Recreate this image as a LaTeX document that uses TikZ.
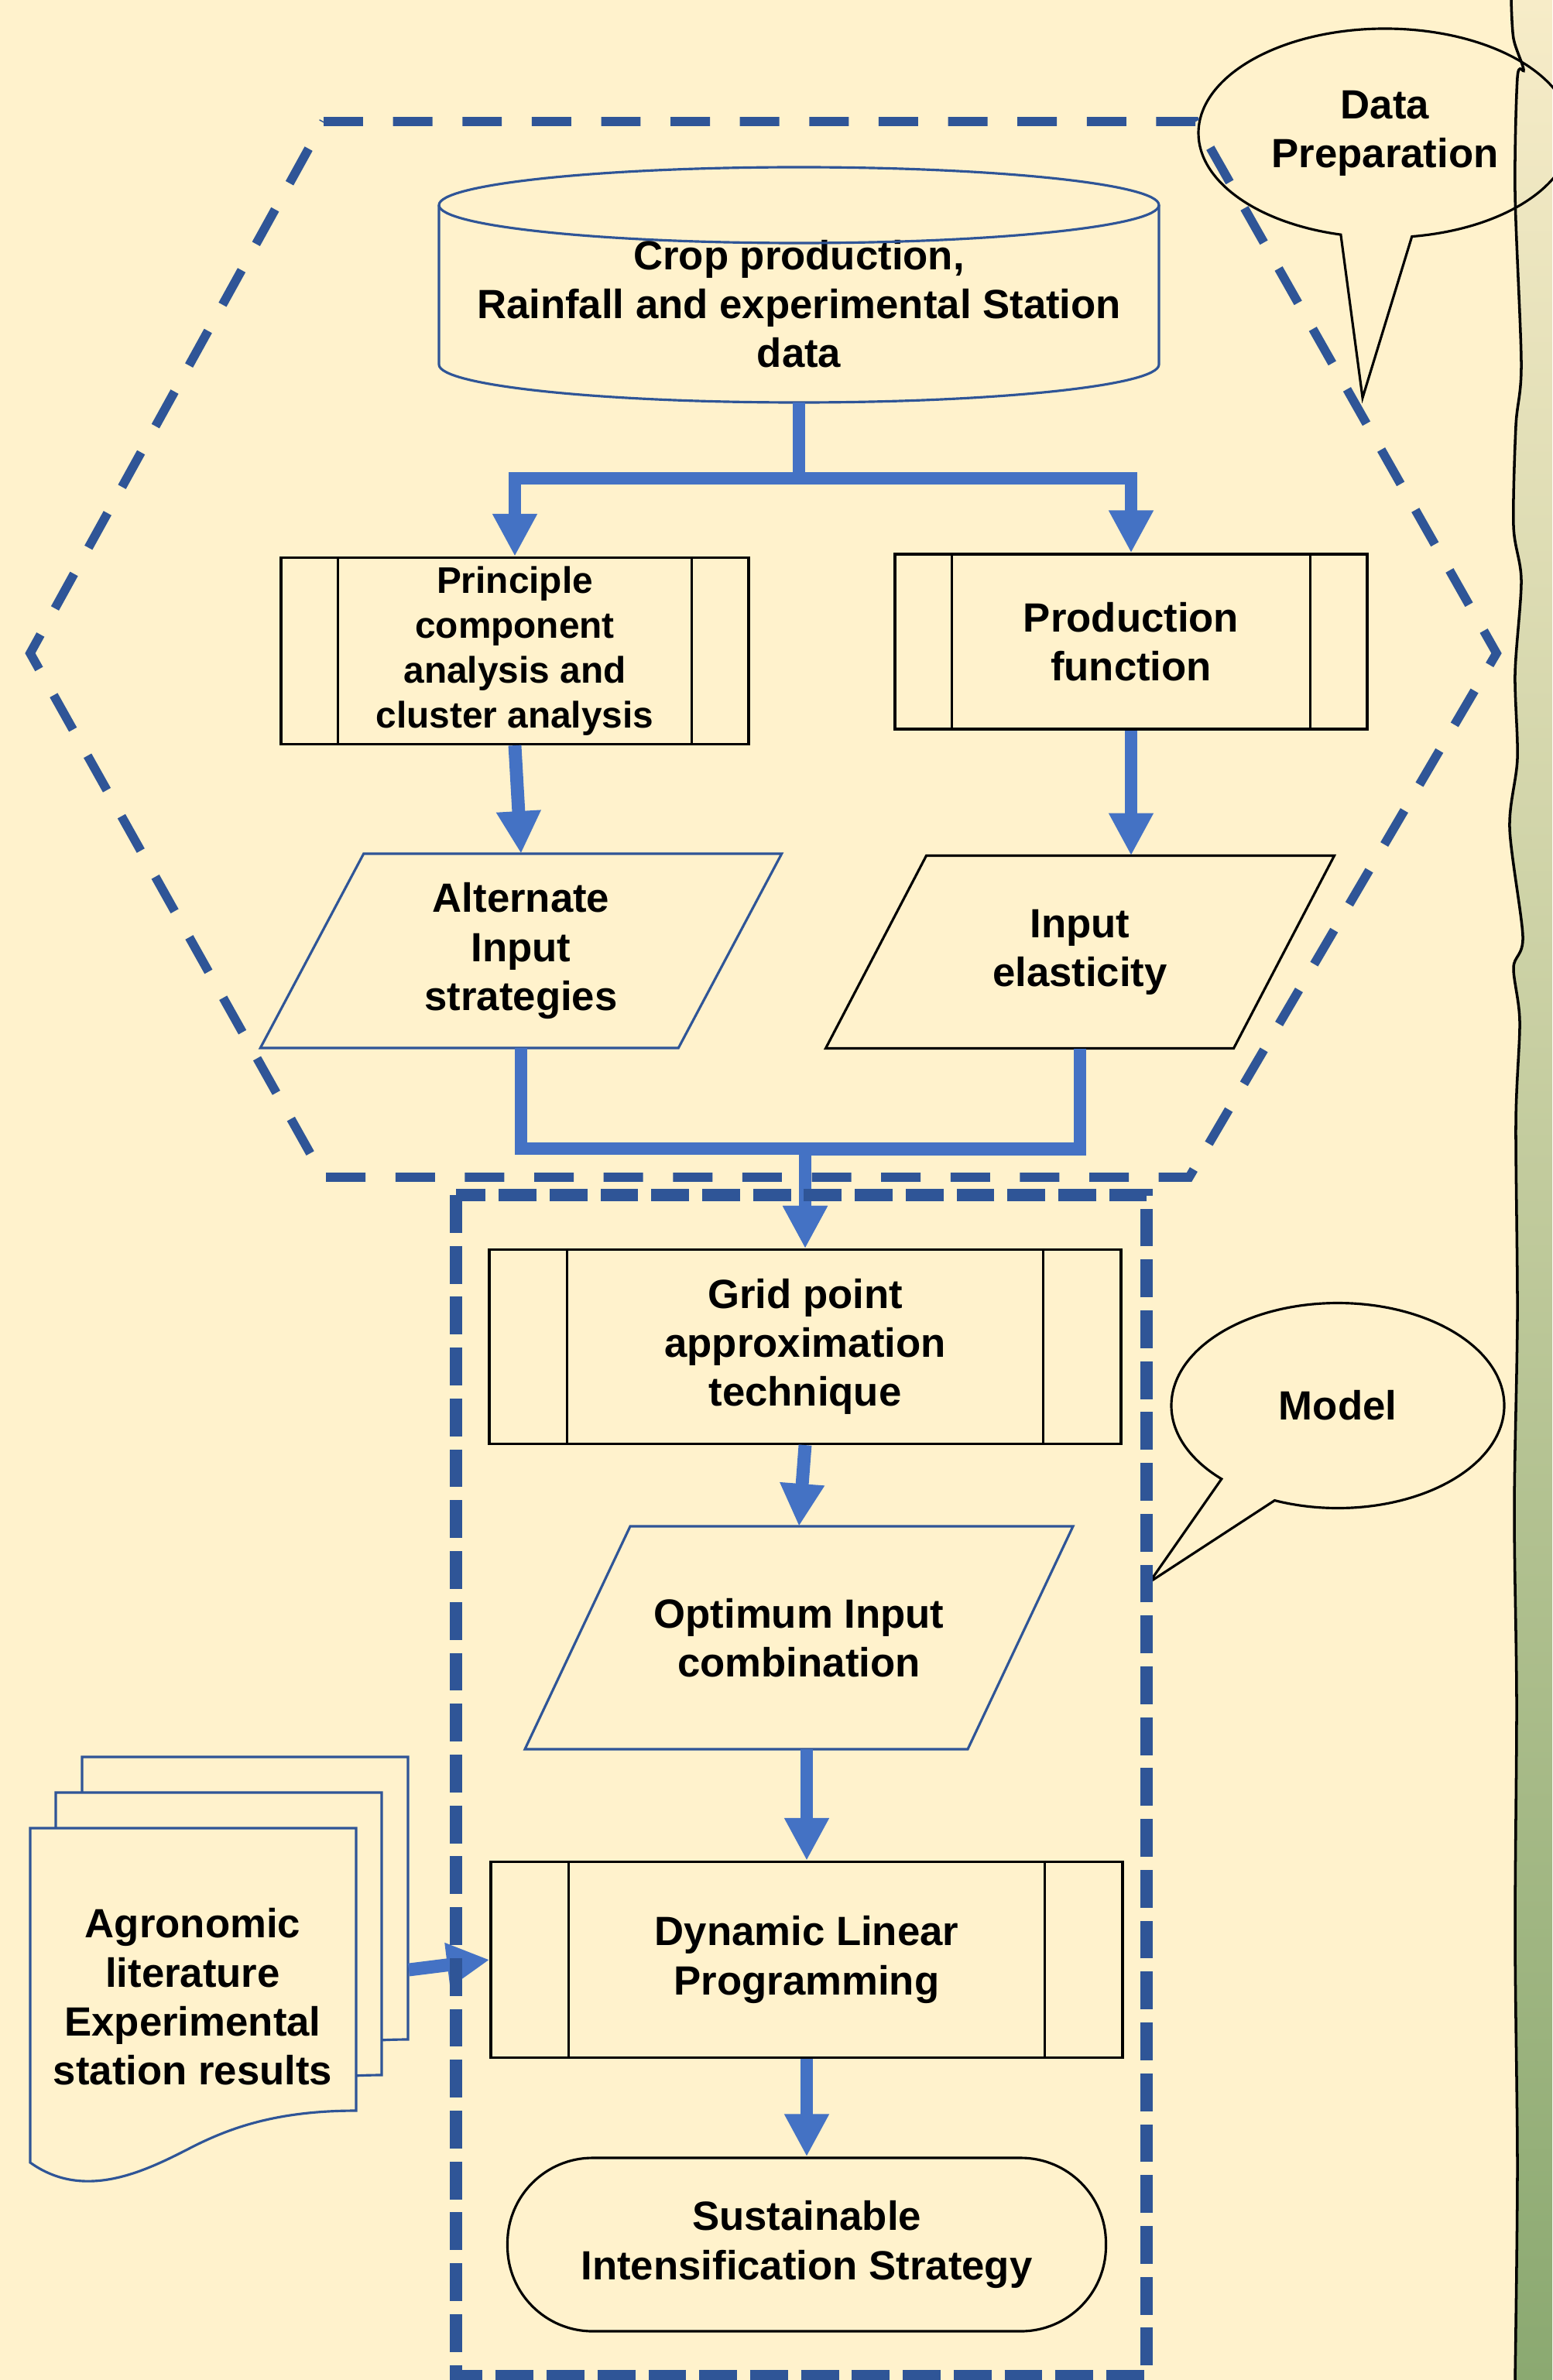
\documentclass[tikz,border=0pt]{standalone}
\usepackage{fontspec}
\setmainfont{Liberation Sans}
\usepackage{tikz}
\usetikzlibrary{shapes.geometric, shapes.callouts, arrows.meta, calc}

\definecolor{cream}{HTML}{FFF2CC}
\definecolor{darkblue}{HTML}{2F5597}
\definecolor{flowblue}{HTML}{4472C4}
\definecolor{striptop}{HTML}{F7ECC8}
\definecolor{stripmid}{HTML}{B3C292}
\definecolor{stripbot}{HTML}{8BA971}

\tikzset{
  every node/.style={font=\bfseries\fontsize{15}{18}\selectfont, align=center},
  flow/.style={draw=flowblue, line width=4.8pt, -{Triangle[width=0.54cm,length=0.55cm]}},
  procbox/.style={draw=black, line width=0.9pt, rectangle, inner sep=0pt},
  iobox/.style={rectangle, inner sep=0pt, outer sep=0pt},
  hexdash/.style={draw=darkblue, line width=3.3pt, dash pattern=on 14.5pt off 11pt},
  modeldash/.style={draw=darkblue, line width=4.5pt, dash pattern=on 13.9pt off 4.8pt},
  docline/.style={draw=darkblue, line width=0.9pt, fill=cream},
  bubble/.style={ellipse callout, draw=black, line width=0.9pt, callout pointer arc=22}
}

\begin{document}
\begin{tikzpicture}
  \useasboundingbox (0,0) rectangle (20.05,-30.75);
  \fill[cream] (0,0) rectangle (20.05,-30.75);

  % Right strip
  \shade[top color=striptop, middle color=stripmid, bottom color=stripbot]
    plot[smooth] coordinates {(19.52,0) (19.55,-0.5) (19.68,-0.9) (19.60,-1.0) (19.57,-2.5) (19.65,-4.7) (19.58,-5.5) (19.55,-6.8) (19.65,-7.5) (19.57,-8.7) (19.60,-9.8) (19.50,-10.7) (19.67,-12.1) (19.55,-12.5) (19.63,-13.2) (19.58,-14.5) (19.60,-17.0) (19.56,-19.5) (19.59,-22.0) (19.57,-25.0) (19.60,-28.0) (19.57,-30.75)}
    -- (20.05,-30.75) -- (20.05,0) -- cycle;

  % Callouts
  \node[bubble, minimum width=4.82cm, minimum height=2.70cm, callout absolute pointer={(17.60,-5.14)}] (prepcall) at (17.89,-1.72) {Data\\Preparation};
  \node[bubble, minimum width=4.30cm, minimum height=2.65cm, callout absolute pointer={(14.85,-20.44)}] (modelcall) at (17.28,-18.16) {Model};

  \draw[line width=1pt] plot[smooth] coordinates {(19.52,0) (19.55,-0.5) (19.68,-0.9) (19.60,-1.0) (19.57,-2.5) (19.65,-4.7) (19.58,-5.5) (19.55,-6.8) (19.65,-7.5) (19.57,-8.7) (19.60,-9.8) (19.50,-10.7) (19.67,-12.1) (19.55,-12.5) (19.63,-13.2) (19.58,-14.5) (19.60,-17.0) (19.56,-19.5) (19.59,-22.0) (19.57,-25.0) (19.60,-28.0) (19.57,-30.75)};

  % Data source
  \node[iobox, minimum width=9.30cm, minimum height=2.55cm] (data) at (10.32,-3.925) {Crop production,\\Rainfall and experimental Station\\data};
  \draw[draw=darkblue, line width=0.9pt] (data.north) ellipse (4.65cm and 0.49cm);
  \draw[draw=darkblue, line width=0.9pt] (data.north west) -- ++(0,-2.06) arc (180:360:4.65cm and 0.49cm) -- (data.north east);

  % Boxes
  \node[procbox, minimum width=6.04cm, minimum height=2.41cm, font=\bfseries\fontsize{13.6}{16.5}\selectfont] (pca) at (6.65,-8.41) {Principle\\component\\analysis and\\cluster analysis};
  \node[procbox, minimum width=6.10cm, minimum height=2.26cm] (prod) at (14.61,-8.29) {Production\\function};
  \node[iobox, minimum width=5.40cm, minimum height=2.51cm] (alt) at (6.73,-12.285) {Alternate\\Input\\strategies};
  \node[iobox, minimum width=5.27cm, minimum height=2.49cm] (elast) at (13.95,-12.30) {Input\\elasticity};
  \node[procbox, minimum width=8.16cm, minimum height=2.51cm] (grid) at (10.40,-17.40) {Grid point\\approximation\\technique};
  \node[iobox, minimum width=5.72cm, minimum height=2.88cm] (opt) at (10.32,-21.16) {Optimum Input\\combination};
  \node[procbox, minimum width=8.16cm, minimum height=2.53cm] (dlp) at (10.42,-25.32) {Dynamic Linear\\Programming};
  \node[draw=black, line width=0.9pt, rounded corners=1.1cm, minimum width=7.73cm, minimum height=2.24cm] (sis) at (10.42,-29.00) {Sustainable\\Intensification Strategy};

  \foreach \n/\off in {pca/0.75, prod/0.75, grid/1.02, dlp/1.02} {
    \draw[line width=0.9pt] ($(\n.north west)+(\off,0)$) -- ($(\n.south west)+(\off,0)$);
    \draw[line width=0.9pt] ($(\n.north east)-(\off,0)$) -- ($(\n.south east)-(\off,0)$);
  }
  \foreach \n/\off/\col in {alt/0.667/darkblue, elast/0.65/black, opt/0.68/darkblue} {
    \draw[draw=\col, line width=0.9pt] ($(\n.north west)+(\off,0)$) -- ($(\n.north east)+(\off,0)$) -- ($(\n.south east)-(\off,0)$) -- ($(\n.south west)-(\off,0)$) -- cycle;
  }

  % Document stack
  \foreach \dx/\dy in {0.67/0.92, 0.33/0.46, 0/0} {
    \begin{scope}[shift={(\dx,\dy)}]
      \draw[docline] (0.39,-23.62) -- (4.60,-23.62) -- (4.60,-27.27) .. controls (3.6,-27.27) and (3.0,-27.48) .. (2.5,-27.73) .. controls (1.9,-28.04) and (1.1,-28.45) .. (0.39,-27.94) -- cycle;
    \end{scope}
  }
  \node (lit) at (2.49,-25.80) {Agronomic\\literature\\Experimental\\station results};
  \coordinate (litout) at (5.28,-25.45);

  % Flow
  \draw[flow] (data.south) -- ++(0,-0.98) -| (pca.north);
  \draw[flow] (data.south) -- ++(0,-0.98) -| (prod.north);
  \draw[flow] (pca.south) -- (alt.north);
  \draw[flow] (prod.south) -- (prod.south |- elast.north);
  \draw[flow] (alt.south) -- ++(0,-1.30) -| (grid.north);
  \draw[flow] (elast.south) -- ++(0,-1.30) -| (grid.north);
  \draw[flow] (grid.south) -- (opt.north);
  \draw[flow] (opt.south -| dlp.north) -- (dlp.north);
  \draw[flow] (dlp.south) -- (sis.north);
  \draw[flow] (litout) -- (dlp.west);

  % Frames
  \draw[hexdash] (4.18,-1.57) -- (15.44,-1.57) -- (19.33,-8.44) -- (15.36,-15.21) -- (4.18,-15.21) -- (0.39,-8.44) -- cycle;
  \draw[modeldash] (5.89,-15.44) rectangle (14.81,-30.70);
\end{tikzpicture}
\end{document}
